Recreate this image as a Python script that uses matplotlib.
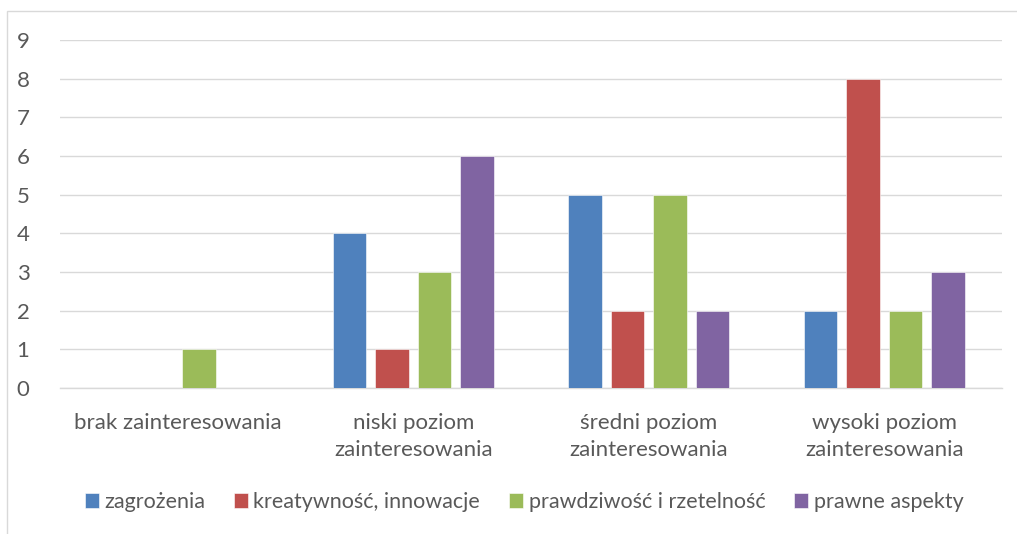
import numpy as np
import matplotlib
matplotlib.use("Agg")
import matplotlib.pyplot as plt
from matplotlib.patches import Rectangle

plt.rcParams['font.family'] = ['Lato', 'DejaVu Sans']

categories = ['brak zainteresowania', 'niski poziom\nzainteresowania',
              'średni poziom\nzainteresowania', 'wysoki poziom\nzainteresowania']
series_names = ['zagrożenia', 'kreatywność, innowacje',
                'prawdziwość i rzetelność', 'prawne aspekty']
zagrozenia = [0, 4, 5, 2]
kreatywnosc = [0, 1, 2, 8]
prawdziwosc = [1, 3, 5, 2]
prawne = [0, 6, 2, 3]
series_values = [zagrozenia, kreatywnosc, prawdziwosc, prawne]
colors = ['#4F81BD', '#C0504D', '#9BBB59', '#8064A2']
yticks = list(range(0, 10))

text_color = '#595959'

fig = plt.figure(figsize=(10.17, 5.34), dpi=100)
# chart frame like Excel
fig.patches.append(Rectangle((7 / 1017, -0.1), 1.2, (534 - 11) / 534 + 0.1,
                             transform=fig.transFigure, fill=False,
                             edgecolor='#D9D9D9', linewidth=1.0))

ax = fig.add_axes([60 / 1017, (534 - 388) / 534, (1002 - 60) / 1017, (388 - 40) / 534])

x = np.arange(len(categories))
bar_w = 0.142
step = 0.181
for i, (name, vals, col) in enumerate(zip(series_names, series_values, colors)):
    offs = (i - 1.5) * step
    ax.bar(x + offs, vals, width=bar_w, color=col, label=name, zorder=3,
           edgecolor='white', linewidth=0.4)

ax.set_xlim(-0.5, len(categories) - 0.5)
ax.set_ylim(0, 9)
ax.set_yticks(yticks)
ax.yaxis.grid(True, color='#D9D9D9', linewidth=1.0, zorder=0)
ax.set_axisbelow(True)
for s in ['top', 'right', 'left']:
    ax.spines[s].set_visible(False)
ax.spines['bottom'].set_color('#D9D9D9')
ax.spines['bottom'].set_linewidth(1.0)
ax.tick_params(axis='both', length=0, colors=text_color, labelsize=16)
ax.tick_params(axis='y', pad=22)
ax.tick_params(axis='x', pad=18)
ax.set_xticks(x)
ax.set_xticklabels(categories, linespacing=1.45)
for lbl in ax.get_yticklabels():
    lbl.set_horizontalalignment('right')

leg = fig.legend(loc='center', bbox_to_anchor=(524 / 1017, (534 - 502) / 534),
                 ncol=4, frameon=False, fontsize=15.5, handlelength=0.65,
                 handleheight=0.65, handletextpad=0.25, columnspacing=1.35)
for t in leg.get_texts():
    t.set_color(text_color)

fig.savefig('out.png', dpi=100)
